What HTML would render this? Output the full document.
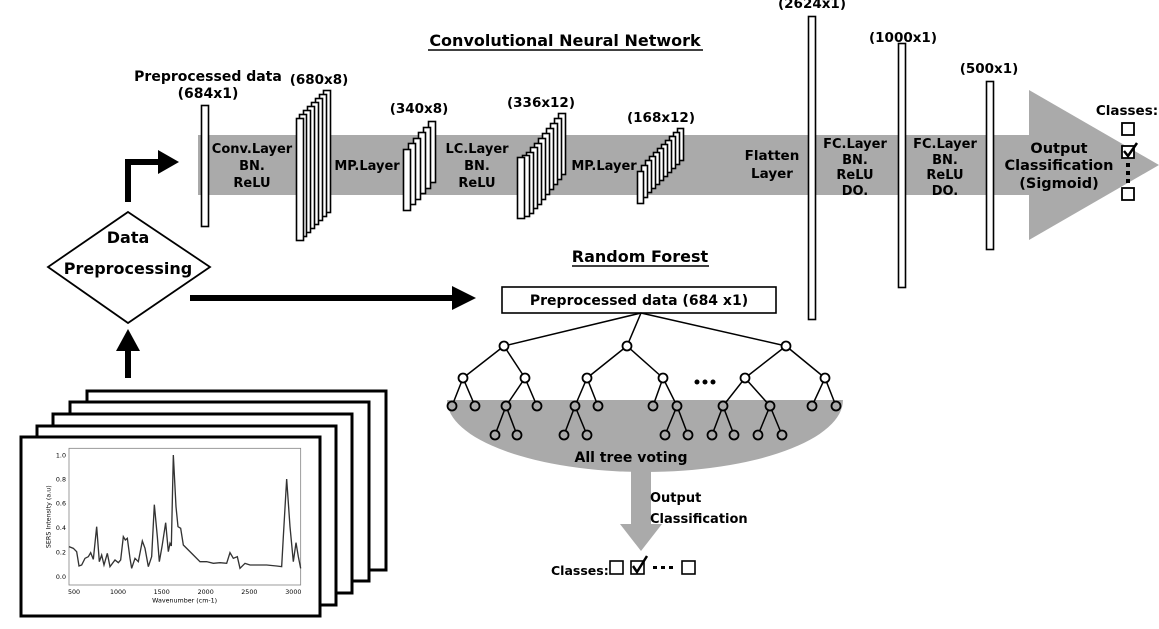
<!DOCTYPE html>
<html><head><meta charset="utf-8"><style>
html,body{margin:0;padding:0;background:#fff}
svg{display:block}
text{font-family:"DejaVu Sans","Liberation Sans",sans-serif;font-weight:bold;fill:#000}
</style></head><body>
<svg width="1159" height="629" viewBox="0 0 1159 629" xmlns="http://www.w3.org/2000/svg">
<rect x="198" y="135" width="832" height="60" fill="#aaa"/>
<polygon points="1029,90 1159,165 1029,240" fill="#aaa"/>
<text x="565" y="46" font-size="16" text-anchor="middle">Convolutional Neural Network</text>
<line x1="428" y1="50" x2="703" y2="50" stroke="#000" stroke-width="1.5"/>
<rect x="201.5" y="105.5" width="7" height="121" fill="#fff" stroke="#000" stroke-width="1.6"/>
<text x="208" y="81" font-size="14" text-anchor="middle">Preprocessed data</text>
<text x="208" y="98" font-size="14" text-anchor="middle">(684x1)</text>
<text x="252" y="153" font-size="13" text-anchor="middle">Conv.Layer</text>
<text x="252" y="170" font-size="13" text-anchor="middle">BN.</text>
<text x="252" y="187" font-size="13" text-anchor="middle">ReLU</text>
<g fill="#fff" stroke="#000" stroke-width="1.6">
<rect x="323.5" y="90.5" width="7" height="122"/>
<rect x="319.5" y="94.5" width="7" height="122"/>
<rect x="315.5" y="98.5" width="7" height="122"/>
<rect x="311.5" y="102.5" width="7" height="122"/>
<rect x="307.5" y="106.5" width="7" height="122"/>
<rect x="303.5" y="110.5" width="7" height="122"/>
<rect x="299.5" y="114.5" width="7" height="122"/>
<rect x="296.5" y="118.5" width="7" height="122"/>
</g>
<text x="319" y="84" font-size="13.5" text-anchor="middle">(680x8)</text>
<text x="367" y="170" font-size="13" text-anchor="middle">MP.Layer</text>
<g fill="#fff" stroke="#000" stroke-width="1.6">
<rect x="428.5" y="121.5" width="7" height="61"/>
<rect x="423.5" y="127.5" width="7" height="61"/>
<rect x="418.5" y="132.5" width="7" height="61"/>
<rect x="413.5" y="138.5" width="7" height="61"/>
<rect x="408.5" y="143.5" width="7" height="61"/>
<rect x="403.5" y="149.5" width="7" height="61"/>
</g>
<text x="419" y="113" font-size="13.5" text-anchor="middle">(340x8)</text>
<text x="477" y="153" font-size="13" text-anchor="middle">LC.Layer</text>
<text x="477" y="170" font-size="13" text-anchor="middle">BN.</text>
<text x="477" y="187" font-size="13" text-anchor="middle">ReLU</text>
<g fill="#fff" stroke="#000" stroke-width="1.6">
<rect x="558.5" y="113.5" width="7" height="61"/>
<rect x="554.5" y="118.5" width="7" height="61"/>
<rect x="550.5" y="123.5" width="7" height="61"/>
<rect x="546.5" y="128.5" width="7" height="61"/>
<rect x="542.5" y="133.5" width="7" height="61"/>
<rect x="538.5" y="138.5" width="7" height="61"/>
<rect x="534.5" y="143.5" width="7" height="61"/>
<rect x="530.5" y="147.5" width="7" height="61"/>
<rect x="526.5" y="152.5" width="7" height="61"/>
<rect x="522.5" y="155.5" width="7" height="61"/>
<rect x="517.5" y="157.5" width="7" height="61"/>
</g>
<text x="541" y="107" font-size="13.5" text-anchor="middle">(336x12)</text>
<text x="604" y="170" font-size="13" text-anchor="middle">MP.Layer</text>
<g fill="#fff" stroke="#000" stroke-width="1.6">
<rect x="677.5" y="128.5" width="6" height="32"/>
<rect x="673.5" y="132.5" width="6" height="32"/>
<rect x="669.5" y="136.5" width="6" height="32"/>
<rect x="665.5" y="140.5" width="6" height="32"/>
<rect x="661.5" y="144.5" width="6" height="32"/>
<rect x="657.5" y="148.5" width="6" height="32"/>
<rect x="653.5" y="152.5" width="6" height="32"/>
<rect x="649.5" y="156.5" width="6" height="32"/>
<rect x="645.5" y="160.5" width="6" height="32"/>
<rect x="641.5" y="165.5" width="6" height="32"/>
<rect x="637.5" y="171.5" width="6" height="32"/>
</g>
<text x="661" y="122" font-size="13.5" text-anchor="middle">(168x12)</text>
<text x="772" y="160" font-size="13.5" text-anchor="middle">Flatten</text>
<text x="772" y="178" font-size="13.5" text-anchor="middle">Layer</text>
<rect x="808.5" y="16.5" width="7" height="303" fill="#fff" stroke="#000" stroke-width="1.6"/>
<text x="812" y="8" font-size="13.5" text-anchor="middle">(2624x1)</text>
<text x="855" y="148" font-size="13" text-anchor="middle">FC.Layer</text>
<text x="855" y="164" font-size="13" text-anchor="middle">BN.</text>
<text x="855" y="179" font-size="13" text-anchor="middle">ReLU</text>
<text x="855" y="195" font-size="13" text-anchor="middle">DO.</text>
<rect x="898.5" y="43.5" width="7" height="244" fill="#fff" stroke="#000" stroke-width="1.6"/>
<text x="903" y="42" font-size="13.5" text-anchor="middle">(1000x1)</text>
<text x="945" y="148" font-size="13" text-anchor="middle">FC.Layer</text>
<text x="945" y="164" font-size="13" text-anchor="middle">BN.</text>
<text x="945" y="179" font-size="13" text-anchor="middle">ReLU</text>
<text x="945" y="195" font-size="13" text-anchor="middle">DO.</text>
<rect x="986.5" y="81.5" width="7" height="168" fill="#fff" stroke="#000" stroke-width="1.6"/>
<text x="989" y="73" font-size="13.5" text-anchor="middle">(500x1)</text>
<text x="1059" y="153" font-size="14.5" text-anchor="middle">Output</text>
<text x="1059" y="170" font-size="14.5" text-anchor="middle">Classification</text>
<text x="1059" y="188" font-size="14.5" text-anchor="middle">(Sigmoid)</text>
<text x="1127" y="115" font-size="13.5" text-anchor="middle">Classes:</text>
<g fill="#fff" stroke="#000" stroke-width="1.8">
<rect x="1122" y="123" width="12" height="12"/>
<rect x="1122" y="146" width="12" height="12"/>
<rect x="1122" y="188" width="12" height="12"/>
</g>
<path d="M1124 151 L1128 156 L1137 143" fill="none" stroke="#000" stroke-width="2.5"/>
<g fill="#000"><rect x="1126" y="163" width="4" height="4"/><rect x="1126" y="171" width="4" height="4"/><rect x="1126" y="179" width="4" height="4"/></g>
<polygon points="128,212 210,267 128,323 48,267" fill="#fff" stroke="#000" stroke-width="1.8"/>
<text x="128" y="243" font-size="16" text-anchor="middle">Data</text>
<text x="128" y="274" font-size="16" text-anchor="middle">Preprocessing</text>
<polyline points="128,202 128,162 160,162" fill="none" stroke="#000" stroke-width="6"/>
<polygon points="158,150 179,162 158,174" fill="#000"/>
<line x1="128" y1="378" x2="128" y2="348" stroke="#000" stroke-width="6"/>
<polygon points="116,351 128,329 140,351" fill="#000"/>
<line x1="190" y1="298" x2="455" y2="298" stroke="#000" stroke-width="6"/>
<polygon points="452,286 476,298 452,310" fill="#000"/>
<text x="640" y="262" font-size="16" text-anchor="middle">Random Forest</text>
<line x1="572" y1="266" x2="709" y2="266" stroke="#000" stroke-width="1.5"/>
<path d="M447 400 L843 400 A198 72 0 0 1 447 400 Z" fill="#aaa"/>
<rect x="502" y="287" width="274" height="26" fill="#fff" stroke="#000" stroke-width="1.6"/>
<text x="639" y="305" font-size="14" text-anchor="middle">Preprocessed data (684 x1)</text>
<g stroke="#000" stroke-width="1.5" fill="none">
<line x1="641" y1="313" x2="504" y2="346"/><line x1="641" y1="313" x2="627" y2="346"/><line x1="641" y1="313" x2="786" y2="346"/>
<line x1="504" y1="346" x2="463" y2="378"/><line x1="504" y1="346" x2="525" y2="378"/>
<line x1="627" y1="346" x2="587" y2="378"/><line x1="627" y1="346" x2="663" y2="378"/>
<line x1="786" y1="346" x2="745" y2="378"/><line x1="786" y1="346" x2="825" y2="378"/>
<line x1="463" y1="378" x2="452" y2="406"/><line x1="463" y1="378" x2="475" y2="406"/>
<line x1="525" y1="378" x2="506" y2="406"/><line x1="525" y1="378" x2="537" y2="406"/>
<line x1="587" y1="378" x2="575" y2="406"/><line x1="587" y1="378" x2="598" y2="406"/>
<line x1="663" y1="378" x2="653" y2="406"/><line x1="663" y1="378" x2="677" y2="406"/>
<line x1="745" y1="378" x2="723" y2="406"/><line x1="745" y1="378" x2="770" y2="406"/>
<line x1="825" y1="378" x2="812" y2="406"/><line x1="825" y1="378" x2="836" y2="406"/>
<line x1="506" y1="406" x2="495" y2="435"/><line x1="506" y1="406" x2="517" y2="435"/>
<line x1="575" y1="406" x2="564" y2="435"/><line x1="575" y1="406" x2="587" y2="435"/>
<line x1="677" y1="406" x2="665" y2="435"/><line x1="677" y1="406" x2="688" y2="435"/>
<line x1="723" y1="406" x2="712" y2="435"/><line x1="723" y1="406" x2="734" y2="435"/>
<line x1="770" y1="406" x2="758" y2="435"/><line x1="770" y1="406" x2="782" y2="435"/>
</g>
<g fill="#fff" stroke="#000" stroke-width="1.8">
<circle cx="504" cy="346" r="4.5"/><circle cx="627" cy="346" r="4.5"/><circle cx="786" cy="346" r="4.5"/>
<circle cx="463" cy="378" r="4.5"/><circle cx="525" cy="378" r="4.5"/><circle cx="587" cy="378" r="4.5"/><circle cx="663" cy="378" r="4.5"/><circle cx="745" cy="378" r="4.5"/><circle cx="825" cy="378" r="4.5"/>
</g>
<g fill="#aaa" stroke="#000" stroke-width="1.8">
<circle cx="452" cy="406" r="4.5"/><circle cx="475" cy="406" r="4.5"/><circle cx="506" cy="406" r="4.5"/><circle cx="537" cy="406" r="4.5"/><circle cx="575" cy="406" r="4.5"/><circle cx="598" cy="406" r="4.5"/><circle cx="653" cy="406" r="4.5"/><circle cx="677" cy="406" r="4.5"/><circle cx="723" cy="406" r="4.5"/><circle cx="770" cy="406" r="4.5"/><circle cx="812" cy="406" r="4.5"/><circle cx="836" cy="406" r="4.5"/>
<circle cx="495" cy="435" r="4.5"/><circle cx="517" cy="435" r="4.5"/><circle cx="564" cy="435" r="4.5"/><circle cx="587" cy="435" r="4.5"/><circle cx="665" cy="435" r="4.5"/><circle cx="688" cy="435" r="4.5"/><circle cx="712" cy="435" r="4.5"/><circle cx="734" cy="435" r="4.5"/><circle cx="758" cy="435" r="4.5"/><circle cx="782" cy="435" r="4.5"/>
</g>
<g fill="#000"><circle cx="697" cy="382" r="2.5"/><circle cx="705" cy="382" r="2.5"/><circle cx="713" cy="382" r="2.5"/></g>
<text x="631" y="462" font-size="14" text-anchor="middle">All tree voting</text>
<rect x="631" y="470" width="20" height="56" fill="#aaa"/>
<polygon points="620,524 662,524 641,551" fill="#aaa"/>
<text x="650" y="502" font-size="13">Output</text>
<text x="650" y="523" font-size="13">Classification</text>
<text x="551" y="575" font-size="12.5">Classes:</text>
<g fill="#fff" stroke="#000" stroke-width="1.6">
<rect x="610" y="561" width="13" height="13"/><rect x="631" y="561" width="13" height="13"/><rect x="682" y="561" width="13" height="13"/>
</g>
<path d="M633 566 L637 572 L647 556" fill="none" stroke="#000" stroke-width="2.5"/>
<g fill="#000"><rect x="653" y="566" width="4" height="3"/><rect x="661" y="566" width="4" height="3"/><rect x="669" y="566" width="4" height="3"/></g>
<g fill="#fff" stroke="#000" stroke-width="3">
<rect x="87" y="391" width="299" height="179"/>
<rect x="70" y="402" width="299" height="179"/>
<rect x="53" y="414" width="299" height="179"/>
<rect x="37" y="426" width="299" height="179"/>
<rect x="21" y="437" width="299" height="179"/>
</g>
<g transform="translate(0,380) scale(0.33333)">
<rect x="207" y="205" width="695" height="410" fill="none" stroke="#888" stroke-width="2.5"/>
<polyline fill="none" stroke="#333" stroke-width="4" points="207,500 220,505 230,515 237,558 245,555 255,535 265,530 272,518 280,538 290,440 298,545 305,525 312,555 322,520 330,560 345,540 355,548 362,540 370,470 376,480 382,475 390,535 395,565 405,535 415,545 427,483 435,505 445,560 455,530 463,374 472,470 478,545 486,500 497,428 505,515 510,490 514,498 520,225 528,380 534,440 542,445 550,495 565,510 580,525 600,545 620,545 640,550 660,548 680,550 690,518 700,535 712,530 720,565 735,550 750,555 770,555 800,555 830,558 845,560 850,470 860,297 870,440 880,545 888,488 895,530 902,565"/>
<g font-size="19">
<text x="198" y="232" text-anchor="end" style="font-weight:normal">1.0</text>
<text x="198" y="304" text-anchor="end" style="font-weight:normal">0.8</text>
<text x="198" y="377" text-anchor="end" style="font-weight:normal">0.6</text>
<text x="198" y="450" text-anchor="end" style="font-weight:normal">0.4</text>
<text x="198" y="523" text-anchor="end" style="font-weight:normal">0.2</text>
<text x="198" y="597" text-anchor="end" style="font-weight:normal">0.0</text>
<text x="222" y="642" text-anchor="middle" style="font-weight:normal">500</text>
<text x="354" y="642" text-anchor="middle" style="font-weight:normal">1000</text>
<text x="485" y="642" text-anchor="middle" style="font-weight:normal">1500</text>
<text x="617" y="642" text-anchor="middle" style="font-weight:normal">2000</text>
<text x="748" y="642" text-anchor="middle" style="font-weight:normal">2500</text>
<text x="880" y="642" text-anchor="middle" style="font-weight:normal">3000</text>
<text x="554" y="668" text-anchor="middle" style="font-weight:normal">Wavenumber (cm-1)</text>
<text transform="translate(152,410) rotate(-90)" text-anchor="middle" style="font-weight:normal">SERS Intensity (a.u)</text>
</g>
</g>
</svg>
</body></html>
